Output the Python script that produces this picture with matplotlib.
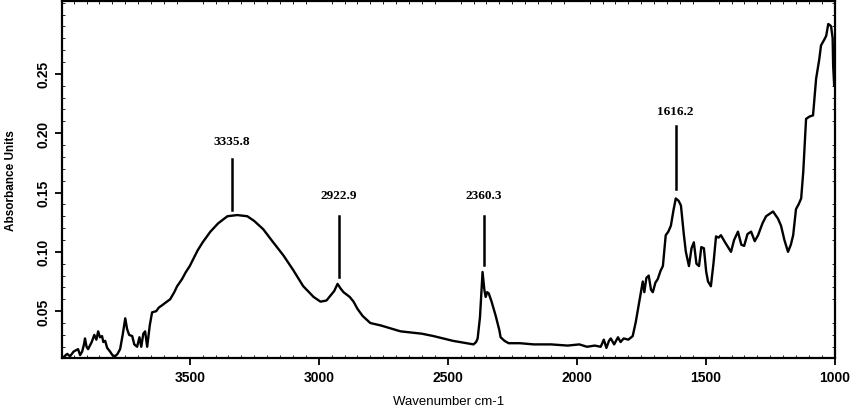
import numpy as np
import matplotlib.pyplot as plt
from matplotlib.ticker import MultipleLocator

# === Espectro IR ===
wavenumber = [3991, 3975, 3964, 3950, 3933, 3925, 3917, 3910, 3906, 3900, 3894,
              3880, 3870, 3862, 3855, 3848, 3840, 3835, 3828, 3820, 3809, 3800,
              3789, 3780, 3770, 3760, 3750, 3743, 3735, 3723, 3715, 3704, 3695,
              3688, 3680, 3673, 3665, 3655, 3646, 3630, 3620, 3607, 3595, 3576,
              3560, 3549, 3530, 3515, 3500, 3486, 3470, 3450, 3420, 3390, 3354,
              3316, 3277, 3250, 3215, 3180, 3137, 3100, 3060, 3020, 2993, 2970,
              2955, 2940, 2927, 2915, 2904, 2880, 2865, 2850, 2830, 2800, 2760,
              2683, 2600, 2555, 2480, 2400, 2390, 2384, 2375, 2365, 2358, 2353,
              2347, 2341, 2330, 2314, 2300, 2295, 2280, 2264, 2220, 2167, 2100,
              2035, 1990, 1960, 1930, 1907, 1895, 1885, 1875, 1868, 1855, 1840,
              1830, 1818, 1800, 1783, 1771, 1760, 1750, 1744, 1738, 1730, 1721,
              1712, 1705, 1695, 1686, 1675, 1666, 1655, 1645, 1635, 1625, 1616,
              1605, 1596, 1585, 1577, 1565, 1555, 1546, 1536, 1526, 1517, 1507,
              1498, 1491, 1480, 1470, 1460, 1450, 1441, 1425, 1402, 1390, 1375,
              1362, 1351, 1338, 1324, 1310, 1297, 1280, 1266, 1239, 1220, 1208,
              1195, 1181, 1170, 1161, 1150, 1140, 1130, 1122, 1111, 1098, 1084,
              1072, 1060, 1053, 1040, 1033, 1025, 1018, 1014, 1008, 1006, 1002]
absorbance = [0.011, 0.014, 0.012, 0.016, 0.018, 0.013, 0.016, 0.022, 0.027, 0.020, 0.018,
              0.024, 0.030, 0.026, 0.033, 0.028, 0.029, 0.024, 0.025, 0.019, 0.016, 0.013,
              0.012, 0.014, 0.018, 0.030, 0.044, 0.035, 0.030, 0.029, 0.022, 0.020, 0.028,
              0.020, 0.031, 0.033, 0.020, 0.038, 0.049, 0.050, 0.053, 0.055, 0.057, 0.060,
              0.066, 0.071, 0.077, 0.083, 0.088, 0.094, 0.101, 0.108, 0.117, 0.124, 0.130,
              0.131, 0.130, 0.126, 0.119, 0.109, 0.097, 0.085, 0.071, 0.062, 0.058, 0.059,
              0.063, 0.067, 0.073, 0.069, 0.066, 0.062, 0.058, 0.052, 0.046, 0.040, 0.038,
              0.033, 0.031, 0.029, 0.025, 0.022, 0.024, 0.027, 0.045, 0.083, 0.068, 0.062,
              0.066, 0.065, 0.058, 0.046, 0.034, 0.028, 0.025, 0.023, 0.023, 0.022, 0.022,
              0.021, 0.022, 0.020, 0.021, 0.020, 0.026, 0.019, 0.025, 0.027, 0.022, 0.028,
              0.024, 0.027, 0.026, 0.029, 0.041, 0.055, 0.068, 0.075, 0.066, 0.078, 0.080,
              0.068, 0.066, 0.074, 0.077, 0.084, 0.088, 0.114, 0.117, 0.122, 0.135, 0.145,
              0.143, 0.139, 0.115, 0.100, 0.088, 0.103, 0.108, 0.090, 0.088, 0.104, 0.103,
              0.083, 0.075, 0.071, 0.090, 0.113, 0.112, 0.114, 0.108, 0.100, 0.110, 0.117,
              0.106, 0.105, 0.115, 0.117, 0.109, 0.114, 0.124, 0.130, 0.134, 0.128, 0.122,
              0.110, 0.100, 0.106, 0.114, 0.136, 0.140, 0.145, 0.167, 0.212, 0.214, 0.215,
              0.246, 0.262, 0.274, 0.279, 0.282, 0.292, 0.291, 0.290, 0.280, 0.257, 0.240]

# === Picos marcados ===
picos = [3335.8, 2922.9, 2360.3, 1616.2]
rotulos = ["3335.8", "2922.9", "2360.3", "1616.2"]
texto_y = [0.193, 0.148, 0.148, 0.219]
linha_topo = [0.178, 0.130, 0.130, 0.206]
linha_base = [0.135, 0.079, 0.089, 0.153]

fig = plt.figure(figsize=(8.5, 4.1), dpi=100)
ax = fig.add_axes([0.073, 0.124, 0.909, 0.870])

ax.plot(wavenumber, absorbance, color='black', lw=1.7)

for x, r, ty, lt, lb in zip(picos, rotulos, texto_y, linha_topo, linha_base):
    ax.plot([x, x], [lb, lt], color='black', lw=1.8)
    ax.text(x, ty, r, ha='center', va='center', fontsize=9.5,
            fontweight='bold', family='Liberation Serif')

ax.set_xlim(3995, 1000)
ax.set_ylim(0.0104, 0.311)
ax.set_xticks([3500, 3000, 2500, 2000, 1500, 1000])
ax.set_yticks([0.05, 0.10, 0.15, 0.20, 0.25])
ax.set_yticklabels(["0.05", "0.10", "0.15", "0.20", "0.25"], rotation=90, va='center')
ax.xaxis.set_minor_locator(MultipleLocator(50))
ax.yaxis.set_minor_locator(MultipleLocator(0.01))

ax.tick_params(which='major', direction='out', length=5, width=1.3, labelsize=10)
ax.tick_params(which='minor', direction='in', length=2, width=0.6,
               top=True, right=True)
for lab in ax.get_xticklabels() + ax.get_yticklabels():
    lab.set_family('Liberation Sans')
    lab.set_fontweight('bold')

for s in ax.spines.values():
    s.set_linewidth(1.6)

ax.set_xlabel("Wavenumber cm-1", fontsize=9.5, family='Liberation Sans',
              labelpad=8)
ax.set_ylabel("Absorbance Units", fontsize=8.5, family='Liberation Sans',
              fontweight='bold', labelpad=14)

plt.savefig("out.png", dpi=100)
